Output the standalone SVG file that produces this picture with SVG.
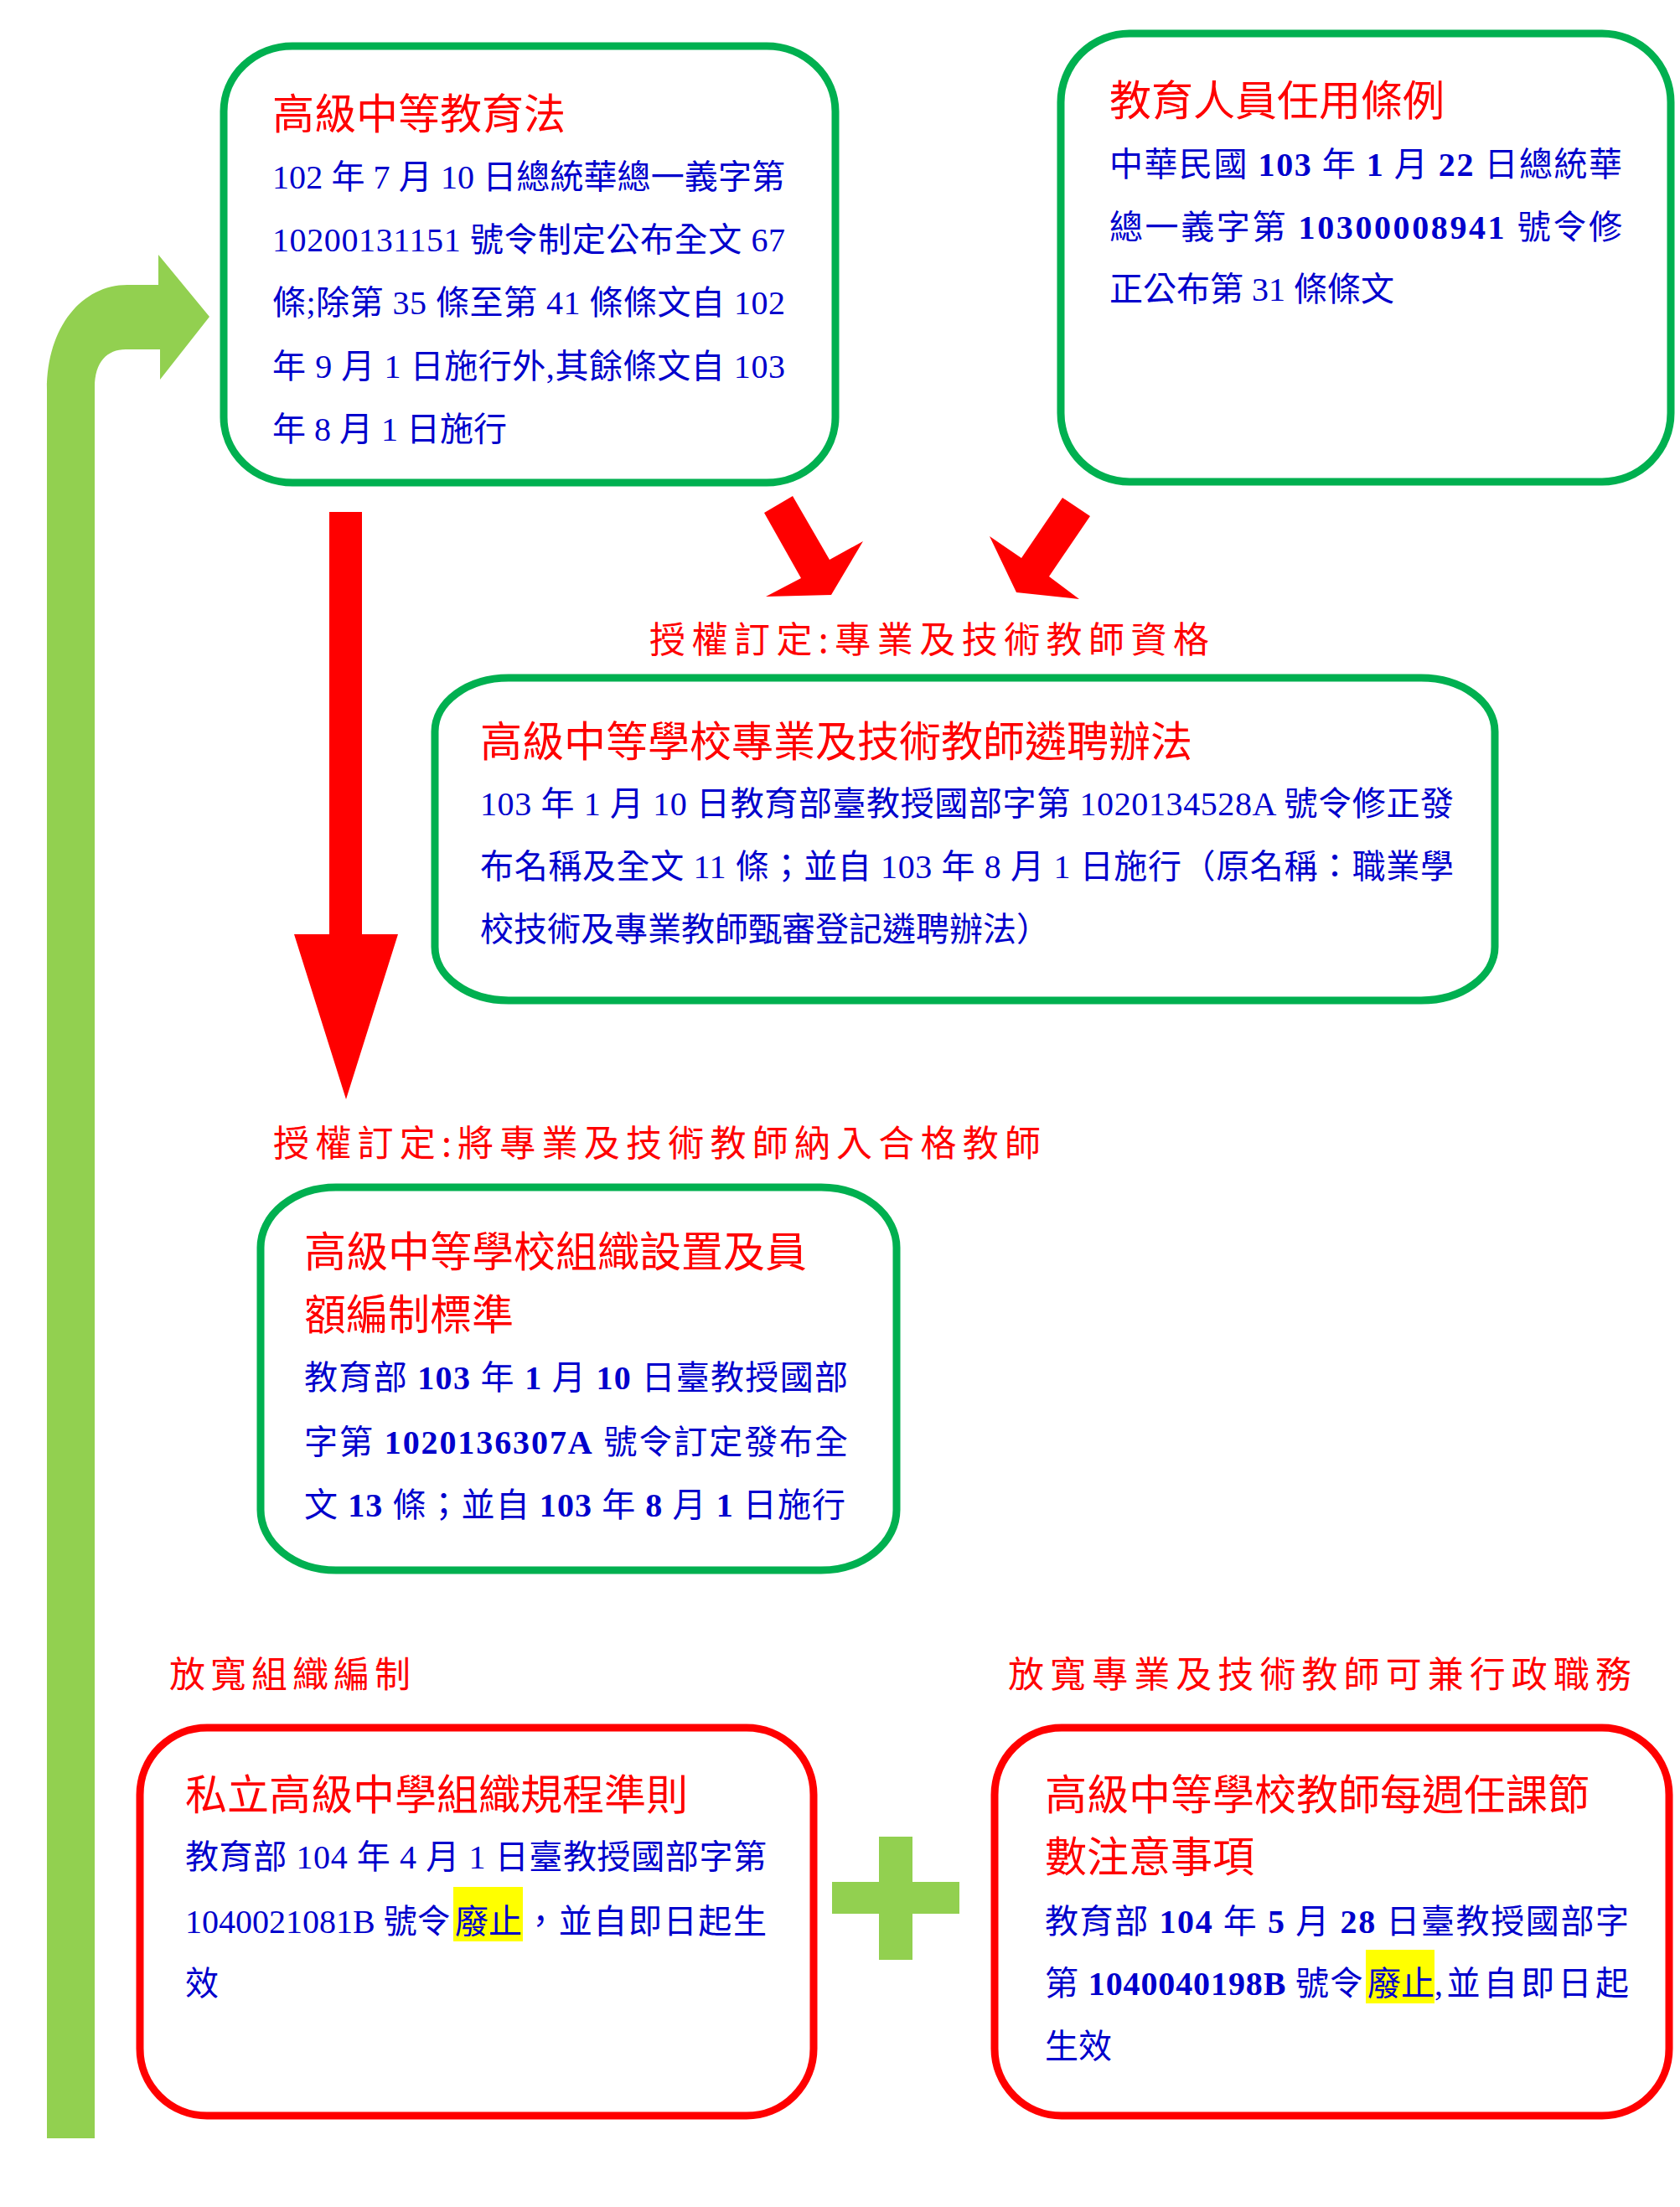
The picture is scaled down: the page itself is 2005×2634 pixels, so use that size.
<svg xmlns="http://www.w3.org/2000/svg" width="2005" height="2634" viewBox="0 0 2005 2634">
<style>
.bg{fill:#ffffff}
.gbox{fill:#ffffff;stroke:#00B050;stroke-width:9}
.rbox{fill:#ffffff;stroke:#FF0000;stroke-width:9}
.title{font-family:'Noto Sans CJK TC','Noto Sans CJK SC',sans-serif;font-size:50px;fill:#FF0000}
.body{font-family:'Liberation Serif','Noto Sans CJK TC','Noto Sans CJK SC',serif;font-size:40px;fill:#0000CC}
.b{font-weight:bold}
.lbl{font-family:'Noto Sans CJK TC','Noto Sans CJK SC',sans-serif;font-size:43px;fill:#FF0000}
.red{fill:#FF0000}
.lg{fill:#92D050}
.hl{fill:#FFFF00}
</style>
<rect class="bg" x="0" y="0" width="2005" height="2634"/>

<g id="connectors">
  <path id="green-return-arrow" class="lg" d="M56 2552 L56 465 C56 390 98 340 152 340 L189 340 L189 304 L250 378 L191 453 L191 417 L150 417 C128 417 113 432 113 462 L113 2552 Z"/>
  <polygon id="arrow-law-to-rules" class="red" points="393,611 432,611 432,1115 475,1115 413,1312 351,1115 393,1115"/>
  <polygon id="arrow-box1-to-box3" class="red" points="912,612 946,592 990,668 1030,646 992,710 914,712 956,690"/>
  <polygon id="arrow-box2-to-box3" class="red" points="1268,594 1301,616 1252,688 1288,715 1213,707 1181,640 1219,666"/>
  <g id="plus">
    <rect class="lg" x="993" y="2246" width="152" height="38"/>
    <rect class="lg" x="1049" y="2192" width="40" height="147"/>
  </g>
</g>

<g id="labels">
  <text class="lbl" x="775" y="779" textLength="668" lengthAdjust="spacing">授權訂定:專業及技術教師資格</text>
  <text class="lbl" x="326" y="1380" textLength="916" lengthAdjust="spacing">授權訂定:將專業及技術教師納入合格教師</text>
  <text class="lbl" x="202" y="2014" textLength="288" lengthAdjust="spacing">放寬組織編制</text>
  <text class="lbl" x="1203" y="2014" textLength="744" lengthAdjust="spacing">放寬專業及技術教師可兼行政職務</text>
</g>

<g id="node-high-school-education-act">
  <rect class="gbox" x="267" y="55" width="730" height="521" rx="82" ry="78"/>
  <text class="title" x="325" y="154">高級中等教育法</text>
  <text class="body" x="325" y="225" textLength="612" lengthAdjust="spacing">102 年 7 月 10 日總統華總一義字第</text>
  <text class="body" x="325" y="300" textLength="612" lengthAdjust="spacing">10200131151 號令制定公布全文 67</text>
  <text class="body" x="325" y="375" textLength="612" lengthAdjust="spacing">條;除第 35 條至第 41 條條文自 102</text>
  <text class="body" x="325" y="451" textLength="612" lengthAdjust="spacing">年 9 月 1 日施行外,其餘條文自 103</text>
  <text class="body" x="325" y="526">年 8 月 1 日施行</text>
</g>

<g id="node-educator-appointment-act">
  <rect class="gbox" x="1266" y="40" width="728" height="535" rx="82" ry="82"/>
  <text class="title" x="1324" y="138">教育人員任用條例</text>
  <text class="body" x="1324" y="210" textLength="612" lengthAdjust="spacing">中華民國 <tspan class="b">103</tspan> 年 <tspan class="b">1</tspan> 月 <tspan class="b">22</tspan> 日總統華</text>
  <text class="body" x="1324" y="285" textLength="612" lengthAdjust="spacing">總一義字第 <tspan class="b">10300008941</tspan> 號令修</text>
  <text class="body" x="1324" y="359">正公布第 31 條條文</text>
</g>

<g id="node-teacher-recruitment-rules">
  <rect class="gbox" x="519" y="809" width="1265" height="385" rx="88" ry="64"/>
  <text class="title" x="573" y="903">高級中等學校專業及技術教師遴聘辦法</text>
  <text class="body" x="573" y="973" textLength="1162" lengthAdjust="spacing">103 年 1 月 10 日教育部臺教授國部字第 1020134528A 號令修正發</text>
  <text class="body" x="573" y="1048" textLength="1162" lengthAdjust="spacing">布名稱及全文 11 條；並自 103 年 8 月 1 日施行（原名稱：職業學</text>
  <text class="body" x="573" y="1123">校技術及專業教師甄審登記遴聘辦法）</text>
</g>

<g id="node-organization-standards">
  <rect class="gbox" x="311" y="1417" width="759" height="457" rx="90" ry="72"/>
  <text class="title" x="363" y="1512">高級中等學校組織設置及員</text>
  <text class="title" x="363" y="1587">額編制標準</text>
  <text class="body" x="363" y="1658" textLength="649" lengthAdjust="spacing">教育部 <tspan class="b">103</tspan> 年 <tspan class="b">1</tspan> 月 <tspan class="b">10</tspan> 日臺教授國部</text>
  <text class="body" x="363" y="1735" textLength="649" lengthAdjust="spacing">字第 <tspan class="b">1020136307A</tspan> 號令訂定發布全</text>
  <text class="body" x="363" y="1810" textLength="646" lengthAdjust="spacing">文 <tspan class="b">13</tspan> 條；並自 <tspan class="b">103</tspan> 年 <tspan class="b">8</tspan> 月 <tspan class="b">1</tspan> 日施行</text>
</g>

<g id="node-private-school-rules">
  <rect class="rbox" x="167" y="2062" width="804" height="463" rx="80" ry="80"/>
  <text class="title" x="221" y="2160">私立高級中學組織規程準則</text>
  <text class="body" x="221" y="2230" textLength="694" lengthAdjust="spacing">教育部 104 年 4 月 1 日臺教授國部字第</text>
  <rect class="hl" x="541" y="2252" width="83" height="65"/>
  <text class="body" x="221" y="2307">1040021081B 號令</text>
  <text class="body" x="543" y="2307">廢止</text>
  <text class="body" x="625" y="2307" textLength="290" lengthAdjust="spacing">，並自即日起生</text>
  <text class="body" x="221" y="2381">效</text>
</g>

<g id="node-teaching-hours-notes">
  <rect class="rbox" x="1187" y="2062" width="805" height="463" rx="80" ry="80"/>
  <text class="title" x="1247" y="2160">高級中等學校教師每週任課節</text>
  <text class="title" x="1247" y="2234">數注意事項</text>
  <text class="body" x="1247" y="2307" textLength="697" lengthAdjust="spacing">教育部 <tspan class="b">104</tspan> 年 <tspan class="b">5</tspan> 月 <tspan class="b">28</tspan> 日臺教授國部字</text>
  <rect class="hl" x="1630" y="2327" width="82" height="64"/>
  <text class="body" x="1247" y="2381" textLength="380" lengthAdjust="spacing">第 <tspan class="b">1040040198B</tspan> 號令</text>
  <text class="body" x="1632" y="2381">廢止</text>
  <text class="body" x="1712" y="2381" textLength="232" lengthAdjust="spacing">,並自即日起</text>
  <text class="body" x="1247" y="2456">生效</text>
</g>
</svg>
